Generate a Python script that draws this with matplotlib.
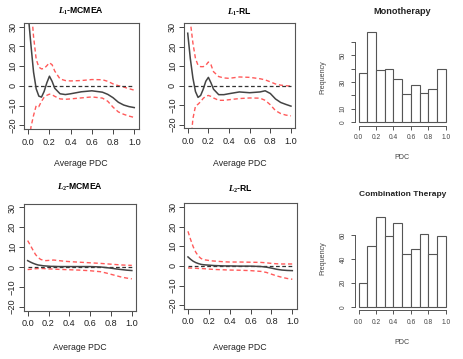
import numpy as np
import matplotlib.pyplot as plt

plt.rcParams['font.family'] = ['Liberation Sans', 'DejaVu Sans']
plt.rcParams['mathtext.fontset'] = 'custom'
plt.rcParams['mathtext.it'] = 'Liberation Serif:italic:bold'
plt.rcParams['mathtext.bf'] = 'Liberation Serif:bold'
plt.rcParams['mathtext.rm'] = 'Liberation Serif:bold'

# valori
pdc = [0, 0.025, 0.05, 0.075, 0.1, 0.125, 0.15, 0.175, 0.2, 0.225, 0.25, 0.3,
       0.35, 0.4, 0.5, 0.6, 0.7, 0.75, 0.8, 0.85, 0.9, 0.95, 1.0]

l1_mcmea_fit = [36, 21, 7, -1.5, -5.2, -5.7, -2.8, 1.5, 4.9, 2.3, -1.2, -4, -4.4, -4,
                -3, -2.5, -3.2, -4.3, -6, -8.3, -9.7, -10.5, -11]
l1_mcmea_up = [55, 42, 25, 13.5, 9.5, 8.6, 8.8, 10.2, 11.7, 10.7, 7.5, 3.5, 2.7, 2.5,
               2.7, 3.2, 3.1, 2.3, 1, 0.1, -0.6, -1.4, -2.2]
l1_mcmea_lo = [-40, -21, -15, -10, -10.5, -7.8, -5.8, -4.8, -4.2, -4.5, -5.3, -6.6, -6.8,
               -6.6, -6.1, -5.6, -6.2, -7.8, -10.8, -13.2, -14.4, -15.3, -16]

l1_rl_fit = [27, 14, 4, -3, -6, -5, -1.8, 2.3, 4.3, 1.5, -1.8, -4.6, -4.6, -4.1, -3.2,
             -3.6, -3.2, -2.6, -4, -6.8, -8.6, -9.6, -10.5]
l1_rl_up = [50, 33, 22, 14, 10.5, 9.8, 9.8, 10.5, 12.2, 10.8, 7.2, 4.7, 4, 3.8, 4.5, 4.3,
            3.6, 3, 2, 0.9, 0.3, 0, -0.2]
l1_rl_lo = [-45, -32, -17, -10.5, -9.5, -8.2, -6.5, -5.4, -5, -5.5, -6.3, -7.5, -7.5,
            -7.2, -6.6, -6.3, -6.4, -7.5, -9.8, -12.8, -14.3, -15.1, -15.5]

l2_mcmea_fit = [3.2, 2.5, 1.9, 1.4, 1.0, 0.8, 0.6, 0.5, 0.4, 0.3, 0.3, 0.2, 0.2, 0.2,
                0.2, 0.2, 0, -0.3, -0.6, -1, -1.3, -1.6, -1.8]
l2_mcmea_up = [13.3, 11, 8.6, 6.3, 4.8, 3.8, 3.4, 3.2, 3.3, 3.4, 3.5, 3.2, 2.9, 2.7,
               2.4, 2.1, 1.8, 1.6, 1.4, 1.2, 1.0, 0.9, 0.8]
l2_mcmea_lo = [-1.3, -1.2, -1.0, -0.9, -0.8, -0.8, -0.8, -0.9, -1.0, -1.0, -1.1, -1.2,
               -1.3, -1.4, -1.6, -1.9, -2.4, -3, -3.7, -4.4, -5.1, -5.6, -6]

l2_rl_fit = [4.6, 3.4, 2.4, 1.7, 1.2, 0.8, 0.6, 0.5, 0.4, 0.3, 0.2, 0.1, 0, 0, -0.1,
             -0.1, -0.3, -0.6, -1.1, -1.7, -2.1, -2.3, -2.4]
l2_rl_up = [17.7, 13.5, 9.8, 7, 5, 3.8, 3.2, 3, 2.8, 2.6, 2.5, 2.3, 2.1, 2, 2, 1.9,
            1.8, 1.6, 1.3, 1.1, 1.0, 1.0, 1.0]
l2_rl_lo = [-1, -1.1, -1.1, -1.2, -1.3, -1.3, -1.4, -1.5, -1.6, -1.7, -1.8, -1.9, -2,
            -2.1, -2.2, -2.4, -2.8, -3.3, -4.2, -5.1, -5.8, -6.4, -6.8]

bin_edges = [0.0, 0.1, 0.2, 0.3, 0.4, 0.5, 0.6, 0.7, 0.8, 0.9, 1.0]
mono_counts = [37, 67, 39, 40, 32, 21, 28, 22, 25, 40]
combo_counts = [20, 51, 75, 59, 70, 44, 48, 61, 44, 59]

W, H = 463, 359
fig = plt.figure(figsize=(W / 100, H / 100), dpi=100)


def box(left, right, top, bottom):
    return [left / W, 1 - bottom / H, (right - left) / W, (bottom - top) / H]


def ftext(x, y, s, **kw):
    fig.text(x / W, 1 - y / H, s, ha='center', va='center', **kw)


def curve_panel(rect, title, fit, up, lo, title_y, xlab_y):
    ax = fig.add_axes(box(*rect))
    ax.plot(pdc, up, color='#ff5a5a', ls=(0, (3, 2)), lw=1.0)
    ax.plot(pdc, lo, color='#ff5a5a', ls=(0, (3, 2)), lw=1.0)
    ax.hlines(0, pdc[0], pdc[-1], color='#333333', ls=(0, (3, 2)), lw=0.9)
    ax.plot(pdc, fit, color='#444444', lw=1.1)
    ax.set_xlim(-0.04, 1.04)
    ax.set_ylim(-22, 32)
    ax.set_xticks(np.arange(0, 1.01, 0.2))
    ax.set_xticklabels(['0.0', '0.2', '0.4', '0.6', '0.8', '1.0'])
    ax.set_yticks([-20, -10, 0, 10, 20, 30])
    ax.tick_params(axis='both', length=3.5, width=0.7, colors='#444444',
                   labelcolor='#222222', labelsize=6.6)
    ax.tick_params(axis='x', pad=2.5)
    ax.tick_params(axis='y', pad=1.2)
    for lab in ax.get_yticklabels():
        lab.set_rotation(90)
        lab.set_va('center')
    for sp in ax.spines.values():
        sp.set_color('#555555')
        sp.set_linewidth(0.8)
    cx = (rect[0] + rect[1]) / 2
    ftext(cx, title_y, title, fontsize=6.2, fontweight='bold')
    ftext(cx, xlab_y, 'Average PDC', fontsize=6.3, color='#222222')
    return ax


def hist_panel(rect, title, counts, ytop, yticks, ylabs, title_y, xlab_y, ylab_y, tsize):
    ax = fig.add_axes(box(*rect))
    ax.bar(bin_edges[:-1], counts, width=0.1, align='edge', color='white',
           edgecolor='#555555', lw=0.8)
    ax.set_xlim(-0.04, 1.04)
    ax.set_ylim(-0.04 * max(counts), max(counts) * 1.04)
    for side in ['top', 'right']:
        ax.spines[side].set_visible(False)
    ax.spines['bottom'].set_bounds(0, 1)
    ax.spines['left'].set_bounds(0, ytop)
    for side in ['bottom', 'left']:
        ax.spines[side].set_color('#555555')
        ax.spines[side].set_linewidth(0.7)
    ax.set_xticks(np.arange(0, 1.01, 0.2))
    ax.set_xticklabels(['0.0', '0.2', '0.4', '0.6', '0.8', '1.0'])
    ax.set_yticks(yticks)
    ax.set_yticklabels(ylabs)
    ax.tick_params(axis='both', length=3, width=0.7, colors='#555555',
                   labelcolor='#444444', labelsize=4.8)
    ax.tick_params(axis='x', pad=3)
    ax.tick_params(axis='y', pad=3)
    for lab in ax.get_yticklabels():
        lab.set_rotation(90)
        lab.set_va('center')
    cx = (rect[0] + rect[1]) / 2
    ftext(cx, title_y, title, fontsize=tsize, fontweight='bold', color='#222222')
    ftext(cx, xlab_y, 'PDC', fontsize=5.1, color='#444444')
    ftext(323, ylab_y, 'Frequency', fontsize=5.1, color='#444444', rotation=90)
    return ax


curve_panel((24, 138.5, 22.7, 129.3), r'$\mathit{L}_{\mathbf{1}}$-MCMEA',
            l1_mcmea_fit, l1_mcmea_up, l1_mcmea_lo, 11.5, 163)
curve_panel((183.6, 295.1, 23.5, 128.5), r'$\mathit{L}_{\mathbf{1}}$-RL',
            l1_rl_fit, l1_rl_up, l1_rl_lo, 12, 163)
curve_panel((23.5, 136, 203.5, 310.6), r'$\mathit{L}_{\mathbf{2}}$-MCMEA',
            l2_mcmea_fit, l2_mcmea_up, l2_mcmea_lo, 187, 348)
curve_panel((183.8, 296.5, 203.3, 309), r'$\mathit{L}_{\mathbf{2}}$-RL',
            l2_rl_fit, l2_rl_up, l2_rl_lo, 189, 348)

hist_panel((355.2, 449.2, 28.7, 125.9), 'Monotherapy', mono_counts, 60,
           [0, 10, 20, 30, 40, 50, 60], ['0', '10', '', '30', '', '50', ''],
           11.7, 157, 77, 6.6)
hist_panel((355.2, 449.2, 213.5, 310.3), 'Combination Therapy', combo_counts, 60,
           [0, 20, 40, 60], ['0', '20', '40', '60'], 195, 343, 258, 6.0)

fig.savefig('out.png', dpi=100)
